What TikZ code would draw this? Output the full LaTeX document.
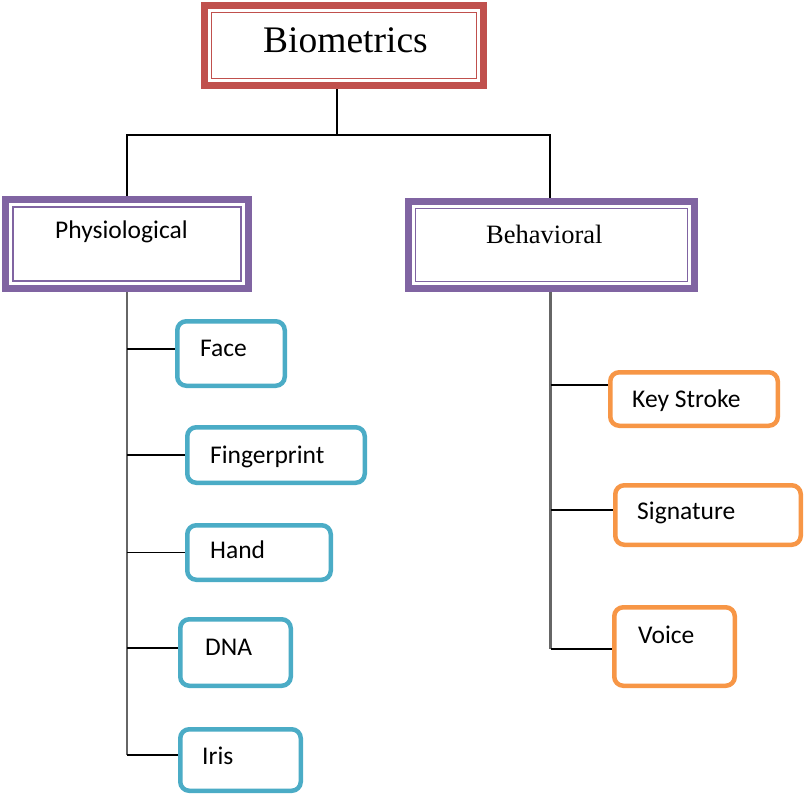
\documentclass[tikz,border=0pt]{standalone}
\usepackage{fontspec}
\setmainfont{Liberation Serif}
\newfontfamily\bodyfont{Carlito}
\usetikzlibrary{backgrounds}
\definecolor{bioRed}{HTML}{C0504D}
\definecolor{bioPurple}{HTML}{8064A2}
\definecolor{bioBlue}{HTML}{4BACC6}
\definecolor{bioOrange}{HTML}{F79646}
\tikzset{
  framebox/.style={draw=#1, line width=7pt, inner sep=0pt, outer sep=0pt, fill=white},
  innerframe/.style={draw=#1, line width=1.5pt},
  leafbox/.style={draw=#1, line width=4.5pt, rounded corners=9pt, inner sep=0pt, fill=white},
  leaftext/.style={anchor=base west, inner sep=0pt, font=\bodyfont\fontsize{25.5}{30}\selectfont},
  link/.style={draw=black, line width=1.4pt},
  trunk/.style={draw=black!60, line width=2.2pt},
}
\begin{document}
\begin{tikzpicture}[x=1pt,y=1pt]
\useasboundingbox (0,0) rectangle (805,-797);

% top level
\node[framebox=bioRed, minimum width=279, minimum height=80] (bio) at (344,-45.5) {};
\draw[innerframe=bioRed] ([shift={(7,-7)}]bio.north west) rectangle ([shift={(-7,7)}]bio.south east);
\node[anchor=base west, inner sep=0pt, font=\fontsize{37.5}{44}\selectfont] (bioT) at (263,-53) {Biometrics};

% two categories
\node[framebox=bioPurple, minimum width=243, minimum height=89] (phys) at (127,-244) {};
\draw[innerframe=bioPurple] ([shift={(7.5,-7.5)}]phys.north west) rectangle ([shift={(-7.5,7.5)}]phys.south east);
\node[leaftext] (physT) at (55,-238) {Physiological};

\node[framebox=bioPurple, minimum width=286, minimum height=87] (beh) at (551.5,-245) {};
\draw[innerframe=bioPurple] ([shift={(7,-7)}]beh.north west) rectangle ([shift={(-7,7)}]beh.south east);
\node[anchor=base west, inner sep=0pt, font=\fontsize{26.5}{32}\selectfont] (behT) at (486,-243) {Behavioral};

% physiological traits
\node[leafbox=bioBlue, minimum width=107.5, minimum height=64.5] (face) at (231,-353.5) {};
\node[leaftext] (faceT) at (200,-356) {Face};
\node[leafbox=bioBlue, minimum width=177.5, minimum height=55.5] (finger) at (276,-455) {};
\node[leaftext] (fingerT) at (210,-463) {Fingerprint};
\node[leafbox=bioBlue, minimum width=143.5, minimum height=54.5] (hand) at (259,-552.5) {};
\node[leaftext] (handT) at (210,-558) {Hand};
\node[leafbox=bioBlue, minimum width=110.5, minimum height=66.5] (dna) at (235.5,-652.5) {};
\node[leaftext] (dnaT) at (205,-655) {DNA};
\node[leafbox=bioBlue, minimum width=120.5, minimum height=61.5] (iris) at (240.5,-760) {};
\node[leaftext] (irisT) at (202,-764) {Iris};

% behavioral traits
\node[leafbox=bioOrange, minimum width=167.5, minimum height=53.5] (key) at (694,-399) {};
\node[leaftext] (keyT) at (632,-407) {Key Stroke};
\node[leafbox=bioOrange, minimum width=185.5, minimum height=59.5] (sig) at (708,-515) {};
\node[leaftext] (sigT) at (637,-519) {Signature};
\node[leafbox=bioOrange, minimum width=120.5, minimum height=78.5] (voice) at (674.5,-646.5) {};
\node[leaftext] (voiceT) at (638,-643) {Voice};

% branch points
\coordinate (split) at (337,-135);
\coordinate (faceIn) at ([yshift=4.5]face.west);
\coordinate (fingerIn) at (finger.west);
\coordinate (handIn) at (hand.west);
\coordinate (dnaIn) at ([yshift=4.5]dna.west);
\coordinate (irisIn) at ([yshift=5]iris.west);
\coordinate (keyIn) at ([yshift=14]key.west);
\coordinate (sigIn) at ([yshift=5]sig.west);
\coordinate (voiceIn) at ([yshift=-2.5]voice.west);

\begin{scope}[on background layer]
  \path[link] (split |- bio.south) -- (split);
  \path[link] (phys.north) |- (split) -| ([xshift=-1.5]beh.north);
  \path[trunk] (phys.south) -- (phys.south |- irisIn);
  \path[trunk] ([xshift=-1]beh.south) -- ([xshift=-1]beh.south |- voiceIn);
  \foreach \b in {faceIn,fingerIn,handIn,dnaIn,irisIn}
    \path[link] (phys.south |- \b) -- (\b);
  \foreach \b in {keyIn,sigIn,voiceIn}
    \path[link] ([xshift=-1]beh.south |- \b) -- (\b);
\end{scope}
\end{tikzpicture}
\end{document}
